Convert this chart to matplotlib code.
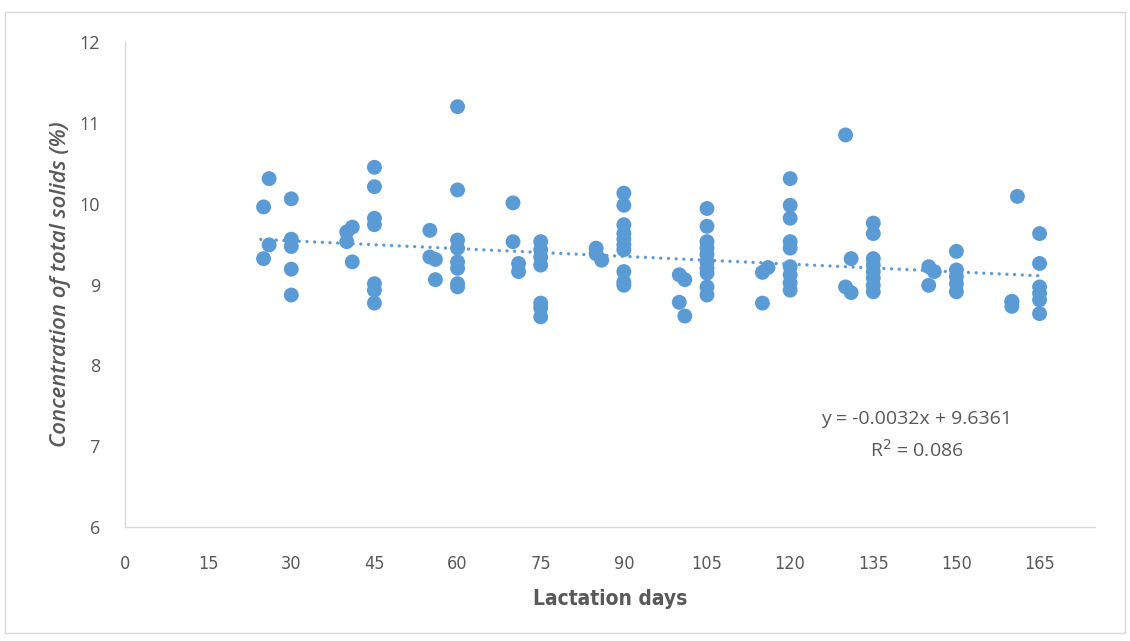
import matplotlib.pyplot as plt
import numpy as np
from matplotlib.patches import Rectangle

# lactation day of each sample and its total solids (%)
days = [25, 25, 26, 26,
        30, 30, 30, 30, 30,
        40, 40, 41, 41,
        45, 45, 45, 45, 45, 45, 45,
        55, 55, 56, 56,
        60, 60, 60, 60, 60, 60, 60, 60,
        70, 70, 71, 71,
        75, 75, 75, 75, 75, 75, 75,
        85, 85, 86,
        90, 90, 90, 90, 90, 90, 90, 90, 90, 90,
        100, 100, 101, 101,
        105, 105, 105, 105, 105, 105, 105, 105, 105, 105,
        115, 115, 116,
        120, 120, 120, 120, 120, 120, 120, 120, 120,
        130, 130, 131, 131,
        135, 135, 135, 135, 135, 135, 135, 135,
        145, 145, 146,
        150, 150, 150, 150, 150,
        160, 160, 160, 161,
        165, 165, 165, 165, 165, 165]
solids = [9.96, 9.32, 10.31, 9.49,
          10.06, 9.56, 9.47, 9.19, 8.87,
          9.65, 9.53, 9.71, 9.28,
          10.45, 10.21, 9.82, 9.74, 9.01, 8.93, 8.77,
          9.67, 9.34, 9.31, 9.06,
          11.20, 10.17, 9.55, 9.45, 9.28, 9.20, 9.01, 8.97,
          10.01, 9.53, 9.26, 9.16,
          9.53, 9.43, 9.34, 9.24, 8.77, 8.71, 8.60,
          9.45, 9.38, 9.30,
          10.13, 9.98, 9.74, 9.63, 9.56, 9.49, 9.43, 9.16, 9.03, 8.99,
          9.12, 8.78, 9.06, 8.61,
          9.94, 9.72, 9.53, 9.45, 9.37, 9.28, 9.20, 9.14, 8.97, 8.87,
          9.15, 8.77, 9.21,
          10.31, 9.98, 9.82, 9.53, 9.45, 9.22, 9.12, 9.02, 8.93,
          10.85, 8.97, 9.32, 8.90,
          9.76, 9.63, 9.32, 9.24, 9.16, 9.08, 8.99, 8.91,
          9.22, 8.99, 9.16,
          9.41, 9.18, 9.10, 9.01, 8.91,
          8.79, 8.73, 8.79, 10.09,
          9.63, 9.26, 8.97, 8.89, 8.81, 8.64]

# linear trend as reported on the chart
slope = -0.0032
intercept = 9.6361
r2 = 0.086

x_ticks = [0, 15, 30, 45, 60, 75, 90, 105, 120, 135, 150, 165]
y_ticks = [6, 7, 8, 9, 10, 11, 12]

blue = '#5b9bd5'
grey = '#595959'

fig = plt.figure(figsize=(11.3, 6.41), dpi=100)
ax = fig.add_axes([125 / 1130, 1 - 527 / 641, (1095 - 125) / 1130, (527 - 42) / 641])

ax.scatter(days, solids, s=115, color=blue, edgecolors='none', zorder=3)

tx = np.array([min(days) - 0.5, max(days)])
ax.plot(tx, slope * tx + intercept, color=blue, lw=2.4, ls=(0, (0.01, 2.3)),
        dash_capstyle='round', zorder=2)

ax.text(142.8, 7.335, f'y = {slope:.4f}x + {intercept:.4f}', ha='center', va='center',
        fontsize=14, color=grey, family='Open Sans')
ax.text(142.8, 6.96, f'R$^2$ = {r2}', ha='center', va='center',
        fontsize=14, color=grey, family='Open Sans')

ax.set_xlim(0, 175)
ax.set_ylim(6, 12)
ax.set_xticks(x_ticks)
ax.set_yticks(y_ticks)
ax.set_xticklabels([str(t) for t in x_ticks], family='DejaVu Sans', stretch='condensed',
                   fontsize=13, color=grey)
ax.set_yticklabels([str(t) for t in y_ticks], family='Open Sans', fontsize=13, color=grey)
ax.tick_params(axis='x', length=0, pad=20)
ax.tick_params(axis='y', length=0, pad=18)

for side in ['top', 'right']:
    ax.spines[side].set_visible(False)
for side in ['left', 'bottom']:
    ax.spines[side].set_color('#d9d9d9')
    ax.spines[side].set_linewidth(1)

ax.set_xlabel('Lactation days', family='DejaVu Sans', stretch='condensed',
              fontsize=15, fontweight='bold', color=grey, labelpad=12)
ax.set_ylabel('Concentration of total solids (%)', family='Open Sans', style='italic',
              fontweight='semibold', fontsize=16, color=grey, labelpad=6)

fig.patches.append(Rectangle((5 / 1130, 8 / 641), 1120 / 1130, 621 / 641,
                             transform=fig.transFigure, fill=False,
                             edgecolor='#d9d9d9', lw=1))

fig.savefig('out.png', dpi=100)
